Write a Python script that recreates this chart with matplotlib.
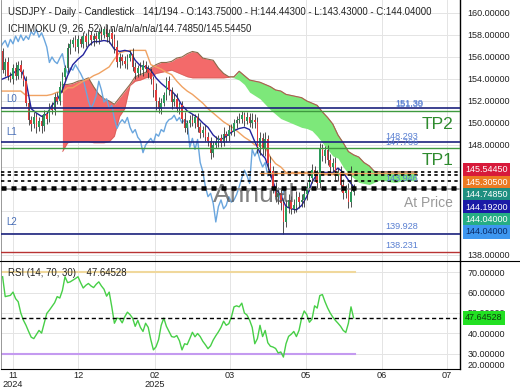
import matplotlib
matplotlib.use("Agg")
import matplotlib.pyplot as plt
from matplotlib.lines import Line2D
import numpy as np

plt.rcParams["font.family"] = ["Liberation Sans", "DejaVu Sans"]

W, H = 520, 390

# daily USDJPY candles, bar 1..136 (open = previous close)
first_open = 156.5
closes = [
    154.8, 155.5, 154.3, 154.0, 155.0, 154.3, 155.3, 154.6, 153.8, 151.8,
    150.3, 149.9, 150.5, 149.6, 150.2, 149.7, 150.8, 150.4, 151.4, 151.2,
    152.4, 152.0, 153.3, 154.2, 155.0, 156.8, 157.2, 157.5, 156.9, 157.6,
    157.2, 157.9, 157.4, 158.0, 157.5, 157.9, 157.6, 158.3, 158.0, 158.5,
    157.8, 158.2, 157.6, 156.9, 155.5, 156.0, 155.6, 155.4, 155.9, 156.3,
    155.1, 154.5, 155.0, 154.8, 155.3, 154.9, 154.5, 154.0, 153.0, 152.0,
    151.3, 151.8, 152.5, 153.8, 153.0, 151.9, 152.2, 151.3, 151.6, 150.4,
    149.5, 150.0, 150.3, 150.0, 150.5, 149.6, 149.1, 149.4, 148.7, 148.4,
    147.3, 148.0, 148.3, 148.6, 148.2, 149.0, 148.8, 149.4, 149.2, 150.0,
    150.3, 150.4, 150.7, 150.2, 150.5, 150.0, 150.3, 150.1, 147.8, 148.6,
    147.6, 148.5, 146.4, 145.6, 144.2, 143.3, 143.6, 142.7, 141.0, 142.4,
    143.0, 142.2, 142.5, 143.3, 142.8, 143.0, 143.5, 144.2, 145.0, 145.7,
    145.2, 144.5, 147.6, 147.0, 147.5, 146.6, 146.0, 146.4, 145.2, 145.5,
    144.4, 143.6, 144.0, 142.8, 143.75, 144.04,
]
up_wick = [
    0.3, 0.4, 0.5, 0.3, 0.4, 0.5, 0.3, 0.4, 0.3, 0.5,
    0.4, 0.3, 0.5, 0.4, 0.3, 0.5, 0.4, 0.3, 0.4, 0.5,
    0.3, 0.4, 0.5, 0.4, 0.3, 0.5, 0.4, 0.3, 0.5, 0.4,
    0.3, 0.4, 0.3, 0.5, 0.4, 0.3, 0.4, 0.3, 0.4, 0.3,
    0.5, 0.3, 0.4, 0.5, 0.6, 0.4, 0.3, 0.5, 0.4, 0.3,
    0.5, 0.4, 0.3, 0.5, 0.4, 0.3, 0.4, 0.5, 0.3, 0.6,
    0.4, 0.5, 0.3, 0.4, 0.5, 0.3, 0.4, 0.5, 0.3, 0.4,
    0.6, 0.3, 0.4, 0.5, 0.3, 0.4, 0.5, 0.3, 0.4, 0.5,
    0.3, 0.4, 0.5, 0.3, 0.4, 0.6, 0.3, 0.4, 0.5, 0.4,
    0.3, 0.5, 0.4, 0.3, 0.5, 0.4, 0.6, 0.5, 0.4, 0.6,
    0.5, 0.7, 0.4, 0.6, 0.5, 0.4, 0.6, 0.5, 0.4, 0.6,
    0.5, 0.4, 0.6, 0.5, 0.4, 0.5, 0.6, 0.4, 0.5, 0.6,
    0.4, 0.5, 0.6, 0.5, 0.4, 0.5, 0.6, 0.4, 0.5, 0.4,
    0.6, 0.5, 0.4, 0.5, 2.3, 0.4,
]
dn_wick = [
    0.3, 0.5, 0.4, 0.3, 0.5, 0.4, 0.3, 0.5, 0.4, 0.3,
    0.5, 0.6, 0.4, 0.5, 0.3, 0.6, 0.4, 0.5, 0.3, 0.4,
    0.5, 0.3, 0.4, 0.5, 0.3, 0.4, 0.5, 0.3, 0.4, 0.5,
    0.3, 0.4, 0.5, 0.3, 0.4, 0.5, 0.3, 0.4, 0.5, 0.3,
    0.4, 0.5, 0.6, 0.5, 0.4, 0.5, 0.3, 0.4, 0.5, 0.3,
    0.4, 0.5, 0.3, 0.4, 0.5, 0.3, 0.4, 0.5, 0.6, 0.8,
    0.4, 0.5, 0.3, 0.4, 0.5, 0.6, 0.4, 0.3, 0.5, 0.4,
    0.3, 0.5, 0.4, 0.3, 0.5, 0.4, 0.5, 0.4, 0.3, 0.5,
    0.6, 0.4, 0.3, 0.5, 0.4, 0.3, 0.5, 0.4, 0.3, 0.4,
    0.5, 0.3, 0.4, 0.5, 0.3, 0.4, 0.5, 0.6, 0.5, 0.7,
    0.5, 0.6, 0.7, 0.5, 0.6, 0.5, 0.7, 0.6, 1.05, 0.5,
    0.6, 0.5, 0.4, 0.6, 0.5, 0.4, 0.6, 0.5, 0.4, 0.5,
    0.4, 0.5, 0.4, 0.5, 0.6, 0.4, 0.5, 0.6, 0.4, 0.5,
    0.6, 0.5, 0.4, 0.5, 0.4, 0.32,
]

# ichimoku lines, one value every 2 bars from bar 0 to 136
tenkan = [
    153.9, 154.1, 154.3, 154.7, 154.9, 153.8, 151.3, 150.9, 150.6, 150.8,
    151.6, 152.1, 153.0, 154.3, 155.3, 155.8, 156.2, 157.0, 157.4, 157.4,
    157.5, 157.4, 156.7, 156.5, 156.6, 156.5, 155.7, 155.2, 155.1, 154.8,
    154.1, 153.6, 153.2, 152.9, 152.4, 151.6, 151.1, 150.8, 150.5, 150.0,
    149.6, 148.9, 148.5, 148.6, 149.0, 149.3, 149.5, 149.6, 149.4, 148.3,
    147.3, 146.8, 145.4, 144.0, 143.4, 142.4, 142.2, 142.1, 142.5, 143.3,
    144.6, 145.4, 145.5, 145.5, 145.5, 145.9, 145.5, 144.8, 144.192,
]
kijun = [
    152.9, 152.9, 152.9, 152.9, 152.9, 152.5, 152.5, 152.5, 152.5, 152.5,
    152.6, 152.8, 152.8, 153.2, 153.2, 153.5, 153.8, 154.0, 154.3, 154.5,
    154.8, 155.1, 155.8, 156.4, 156.5, 156.6, 156.6, 156.6, 156.6, 155.3,
    155.1, 154.9, 154.6, 154.4, 153.8, 153.3, 152.9, 152.6, 152.2, 151.8,
    151.3, 150.9, 150.5, 150.1, 149.8, 149.5, 149.1, 148.7, 148.4, 148.0,
    148.0, 147.8, 146.9, 146.3, 146.0, 145.5, 145.5, 145.5, 145.5, 145.5,
    145.5, 145.5, 145.3, 145.3, 145.3, 145.3, 145.3, 145.3, 145.305,
]
# cloud spans, one value every 2 bars from bar 24 to 160
span_a = [
    147.4, 148.2, 148.3, 148.3, 148.3, 148.3, 148.2, 148.2, 148.2, 148.3,
    148.8, 150.6, 151.3, 153.4, 153.8, 153.9, 154.1, 154.2, 154.5, 154.6,
    154.7, 154.8, 154.6, 154.4, 154.2, 154.1, 154.1, 154.1, 154.1, 154.1,
    154.1, 154.1, 154.15, 154.2, 154.7, 154.3, 153.9, 153.8, 153.7, 153.5,
    153.3, 153.0, 152.9, 152.6, 152.5, 152.4, 152.3, 152.0, 151.8, 151.6,
    151.0, 150.5, 149.9, 148.9, 148.2, 147.4, 147.1, 146.9, 146.4, 146.1,
    145.6, 145.55, 145.55, 145.55, 145.55, 145.55, 145.55, 145.55, 145.5445,
]
span_b = [
    153.5, 153.5, 153.6, 153.8, 153.9, 154.1, 153.3, 152.6, 152.2, 152.0,
    151.7, 152.3, 152.9, 153.5, 154.2, 154.4, 154.6, 155.0, 155.3, 155.5,
    155.5, 155.6, 155.9, 156.0, 156.3, 156.5, 156.4, 155.9, 155.8, 155.7,
    155.0, 154.5, 154.2, 154.1, 153.9, 153.5, 152.8, 152.5, 152.2, 151.7,
    151.2, 150.8, 150.4, 150.2, 150.0, 149.8, 149.6, 149.5, 149.3, 148.8,
    148.2, 147.6, 147.0, 146.8, 146.0, 145.4, 145.0, 144.6, 144.5, 144.4,
    144.6, 144.8, 144.75, 144.65, 144.6, 144.7, 144.75, 144.75, 144.7485,
]
rsi = [
    67.7, 58.0, 58.3, 58.6, 60.2, 57.0, 55.5, 50.0, 46.5, 44.0,
    41.0, 38.2, 37.5, 39.5, 41.5, 40.2, 45.0, 49.8, 51.4, 53.2,
    55.0, 58.0, 57.3, 61.0, 67.7, 64.8, 65.2, 66.0, 66.8, 67.7,
    64.8, 62.2, 63.5, 64.4, 63.2, 62.4, 64.0, 65.2, 63.2, 61.6,
    58.2, 60.2, 53.0, 45.0, 47.5, 47.2, 45.2, 48.2, 50.4, 49.2,
    47.5, 43.5, 46.4, 43.0, 41.0, 45.0, 43.0, 37.0, 32.0, 33.5,
    37.0, 44.0, 47.5, 43.5, 41.0, 38.5, 38.2, 39.0, 36.5, 32.0,
    35.0, 34.6, 37.5, 40.6, 38.4, 40.0, 38.5, 36.2, 34.5, 32.6,
    34.0, 36.8, 38.9, 40.8, 43.0, 46.0, 44.0, 44.8, 48.0, 53.0,
    53.5, 53.0, 54.8, 50.0, 49.0, 46.5, 43.0, 35.0, 37.5, 44.0,
    38.5, 41.5, 35.5, 33.8, 33.4, 32.7, 30.5, 31.0, 28.5, 35.0,
    38.6, 39.6, 41.0, 38.5, 41.5, 47.5, 51.0, 49.2, 45.5, 47.0,
    53.5, 52.4, 58.5, 59.0, 55.5, 52.5, 50.0, 48.0, 46.4, 45.0,
    43.5, 41.5, 40.5, 45.0, 53.0, 47.64528,
]

# horizontal levels
nav_levels = [151.39, 148.293, 139.928]
green_levels = [151.12, 147.766]
red_levels = [138.231]
dotted_levels = [145.5445, 145.305, 144.7485, 144.192, 144.04]

price_ticks = np.arange(138, 161, 2)
hidden_ticks = [140, 142, 144]  # covered by the value boxes
rsi_ticks = [30, 40, 50, 60, 70]
month_pos = [5, 30, 59.6, 88.5, 117.7, 146.9, 171.9]
month_labels = ["11\n2024", "12", "02\n2025", "03", "05", "06", "07"]

box_values = ["145.54450", "145.30500", "144.74850", "144.19200", "144.04000", "144.04000"]
box_colors = ["#d7193a", "#ec7a22", "#1f8f80", "#1a1aa6", "#26ad84", "#3d97f0"]
box_text = ["white", "white", "white", "white", "white", "#0b2a66"]

shift = 26
bars = np.arange(1, len(closes) + 1)
closes = np.array(closes)
opens = np.r_[first_open, closes[:-1]]
highs = np.maximum(opens, closes) + np.array(up_wick)
lows = np.minimum(opens, closes) - np.array(dn_wick)
line_x = np.arange(0, 2 * len(tenkan), 2)
cloud_x = np.arange(24, 24 + 2 * len(span_a), 2)
span_a = np.array(span_a)
span_b = np.array(span_b)


def fx(px):
    return px / W


def fy(py):
    return 1 - py / H


fig = plt.figure(figsize=(W / 100, H / 100), dpi=100)
ax = fig.add_axes([fx(1), fy(261), fx(459), 261 / H])
ax_r = fig.add_axes([fx(1), fy(369), fx(459), 107 / H], sharex=ax)

xmax = 460 / 2.6
ax.set_xlim(1 / 2.6, xmax)
ax.set_ylim(137.45, 161.18)
ax_r.set_ylim(22.68, 74.88)

for a in (ax, ax_r):
    a.set_facecolor("white")
    a.spines["top"].set_visible(False)
    a.spines["right"].set_color("black")
    a.spines["right"].set_linewidth(1.0)
    a.spines["left"].set_color("#888888")
    a.spines["left"].set_linewidth(0.6)
    a.yaxis.tick_right()
    a.tick_params(axis="y", length=0, pad=5.5, labelsize=6.5, colors="#222222")
    a.set_xticks(month_pos)
    a.grid(True, color="#e4e4e4", lw=0.7, zorder=0)
    a.set_axisbelow(True)
ax.spines["bottom"].set_visible(False)
ax.tick_params(axis="x", length=0, labelbottom=False)
ax_r.spines["bottom"].set_color("black")
ax_r.set_xticklabels(month_labels)
ax_r.tick_params(axis="x", length=0, pad=1.5, labelsize=6.6, colors="#222222")
for lab in ax_r.get_xticklabels():
    lab.set_linespacing(0.95)

ax.set_yticks(price_ticks)
ax.set_yticklabels(["" if v in hidden_ticks else f"{v:.5f}" for v in price_ticks])
ax_r.set_yticks(rsi_ticks)
ax_r.set_yticklabels([f"{v:.5f}" for v in rsi_ticks])

# cloud
red = span_b >= span_a
ax.fill_between(cloud_x, span_a, span_b, where=red, interpolate=True,
                color="#f36a6a", lw=0, zorder=1)
ax.fill_between(cloud_x, span_a, span_b, where=~red, interpolate=True,
                color="#7de87a", lw=0, zorder=1)
ax.plot(cloud_x, np.maximum(span_a, span_b), color="#8a6a4a", lw=0.8, zorder=1.5)
ax.plot(cloud_x, span_a, color="#c85a50", lw=0.6, alpha=0.6, zorder=1.5)

# ichimoku lines
ax.plot(bars - shift, closes, color="#6aa6de", lw=1.0, zorder=2)
ax.plot(line_x, kijun, color="#f0a262", lw=1.0, zorder=2)
ax.plot(line_x, tenkan, color="#23239e", lw=1.0, zorder=2.2)

# candles
up = closes >= opens
cols = np.where(up, "#2a9a5a", "#e23b3b")
ax.vlines(bars, lows, highs, color="#333333", lw=0.6, zorder=3)
body = np.where(np.abs(closes - opens) < 0.08, 0.08, closes - opens)
ax.bar(bars, body, bottom=opens, width=0.65, color=cols, lw=0, zorder=3.2)

# grey level label sitting on the chart
ax.text(213 / 2.6, 142.82, "Annual", fontsize=19, color="#555555",
        alpha=0.75, va="baseline", ha="left", zorder=3.5)

# levels
for v in nav_levels:
    ax.axhline(v, color="#1c237e", lw=1.2, zorder=4)
for v in green_levels:
    ax.axhline(v, color="#3f9a3f", lw=1.0, zorder=4)
for v in red_levels:
    ax.axhline(v, color="#b83232", lw=1.0, zorder=4)
ax.axhline(143.97, color="#9a9a9a", lw=1.2, zorder=4)
for i, v in enumerate(dotted_levels):
    ax.axhline(v, color="black", lw=1.8 if i >= 3 else 1.2,
               ls=(0, (2, 2)), zorder=5)
ax.plot([100, 160], [145.45, 145.45], color="#f0a262", lw=1.0, zorder=4.5)

lvl_kw = dict(fontsize=6.6, color="#5a80d2", ha="left", va="center", zorder=6)
ax.text(395 / 2.6, 151.78, "151.39", **lvl_kw)
ax.text(395 / 2.6, 151.72, "151.30", **lvl_kw)
ax.text(385 / 2.6, 148.73, "148.293", **lvl_kw)
ax.text(385 / 2.6, 148.20, "147.766", **lvl_kw)
ax.text(385 / 2.6, 144.91, "143.946", **lvl_kw)
ax.text(385 / 2.6, 140.55, "139.928", **lvl_kw)
ax.text(385 / 2.6, 138.82, "138.231", **lvl_kw)

side_kw = dict(fontsize=7, color="#4a70b8", ha="left", va="center", zorder=6)
ax.text(6 / 2.6, 152.2, "L0", **side_kw)
ax.text(6 / 2.6, 149.2, "L1", **side_kw)
ax.text(6 / 2.6, 141.0, "L2", **side_kw)

ax.text(453 / 2.6, 149.45, "TP2", fontsize=12.5, color="#2e8b2e", ha="right",
        va="baseline", zorder=6)
ax.text(453 / 2.6, 146.18, "TP1", fontsize=12.5, color="#2e8b2e", ha="right",
        va="baseline", zorder=6)
ax.text(453 / 2.6, 142.36, "At Price", fontsize=10, color="#9a9a9a", ha="right",
        va="baseline", zorder=6)

# rsi panel
ax_r.plot(bars, rsi, color="#47cf47", lw=1.0, zorder=3)
ax_r.plot([0, bars[-1] + 0.5], [70, 70], color="#f0d89c", lw=1.5, zorder=2)
ax_r.plot([0, bars[-1] + 0.5], [30, 30], color="#c49af0", lw=1.5, zorder=2)
ax_r.axhline(rsi[-1], color="black", lw=1.0, ls=(0, (3, 2)), zorder=4)

# header texts
fig.text(fx(8), fy(12), "USDJPY - Daily - Candlestick", fontsize=6.9,
         color="#222222", va="center")
fig.text(fx(143), fy(12),
         "141/194 - O:143.75000 - H:144.44300 - L:143.43000 - C:144.04000",
         fontsize=6.9, color="#222222", va="center")
fig.text(fx(8), fy(29), "ICHIMOKU (9, 26, 52) | n/a/n/a/n/a/144.74850/145.54450",
         fontsize=6.9, color="#222222", va="center")
fig.text(fx(8), fy(273), "RSI (14, 70, 30)    47.64528", fontsize=6.9,
         color="#222222", va="center")

# right-side value boxes
for i, (val, bc, tc) in enumerate(zip(box_values, box_colors, box_text)):
    fig.text(fx(465), fy(170 + 12.4 * i), val, fontsize=6.5, color=tc,
             va="center", ha="left", zorder=10,
             bbox=dict(boxstyle="square,pad=0.25", fc=bc, ec="none"))
fig.text(fx(465), fy(318), "47.64528", fontsize=6.5, color="#0d3d0d",
         va="center", ha="left", zorder=10,
         bbox=dict(boxstyle="square,pad=0.25", fc="#22e022", ec="none"))
fig.text(fx(468), fy(365), "20.00000", fontsize=6.5, color="#222222", va="center")

fig.add_artist(Line2D([fx(0), 1], [fy(261), fy(261)], color="black", lw=0.8))

fig.savefig("out.png", dpi=100)
